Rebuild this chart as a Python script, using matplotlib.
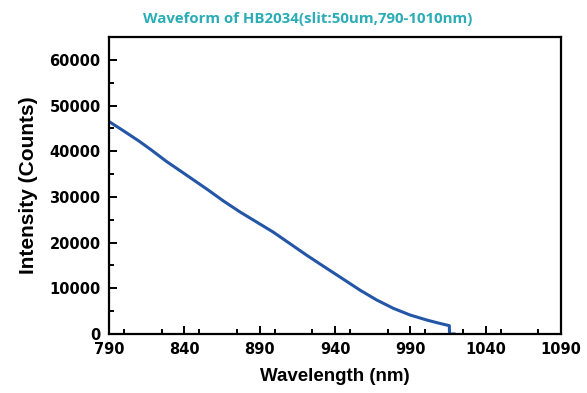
import matplotlib
matplotlib.use('Agg')
import matplotlib.pyplot as plt
from matplotlib.ticker import MultipleLocator

# values
wavelength = [790, 799, 810, 818, 828, 840, 855, 866, 877, 888, 899, 910,
              921, 932, 943, 956.6, 967.7, 978.7, 989.8, 1000.9, 1008,
              1015.9, 1016, 1019]
counts = [46500, 44600, 42200, 40300, 37800, 35100, 31700, 29100, 26700,
          24500, 22300, 19800, 17290, 14900, 12540, 9600, 7440, 5620,
          4160, 3060, 2450, 1820, 0, 0]

x_ticks = [790, 840, 890, 940, 990, 1040, 1090]
y_ticks = [0, 10000, 20000, 30000, 40000, 50000, 60000]

fig = plt.figure(figsize=(5.87, 3.93), dpi=100)
ax = fig.add_axes([109/587, 1-334/393, (561-109)/587, (334-37)/393])

ax.plot(wavelength, counts, color='#2456a8', lw=2.2, solid_joinstyle='round')

ax.set_xlim(790, 1090)
ax.set_ylim(0, 65000)
ax.set_xticks(x_ticks)
ax.set_yticks(y_ticks)
ax.xaxis.set_minor_locator(MultipleLocator(25))
ax.yaxis.set_minor_locator(MultipleLocator(5000))
ax.tick_params(which='both', direction='in', width=1.4, top=False, right=False)
ax.tick_params(which='major', length=6, pad=6)
ax.tick_params(which='minor', length=3.5)
for s in ax.spines.values():
    s.set_linewidth(1.6)

for lab in ax.get_xticklabels() + ax.get_yticklabels():
    lab.set_family('DejaVu Sans')
    lab.set_fontweight('bold')
    lab.set_fontsize(10.5)

ax.set_xlabel('Wavelength (nm)', family='Liberation Sans', fontweight='bold',
              fontsize=13.5, labelpad=8)
ax.set_ylabel('Intensity (Counts)', family='Liberation Sans', fontweight='bold',
              fontsize=15, labelpad=8)

fig.text(308/587, 1-19/393, 'Waveform of HB2034(slit:50um,790-1010nm)',
         family='Open Sans', fontweight='bold', fontsize=10.8, color='#2aadb6',
         ha='center', va='center')

fig.savefig('out.png', dpi=100)
